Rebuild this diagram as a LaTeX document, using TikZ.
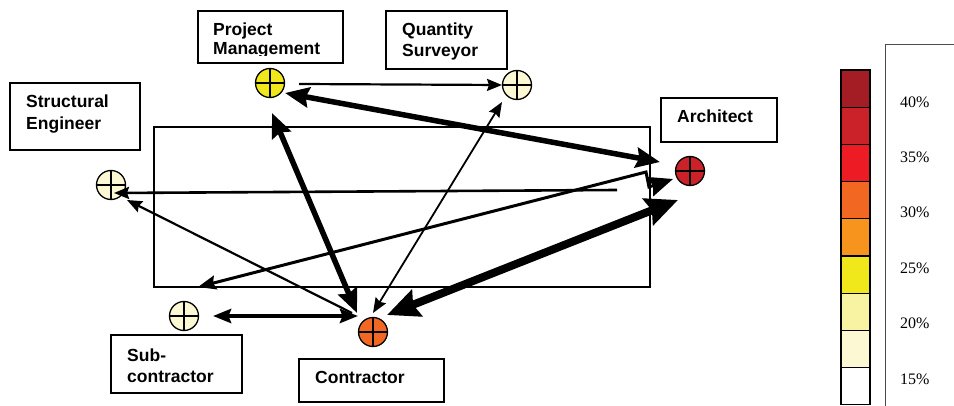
\documentclass[tikz,border=0pt]{standalone}
\usepackage{fontspec}
\setmainfont{Liberation Serif}
\newfontfamily\labfont{Liberation Sans}
\usetikzlibrary{arrows.meta,calc,fit}
\definecolor{cA}{HTML}{A51D24}
\definecolor{cB}{HTML}{CB2128}
\definecolor{cC}{HTML}{ED1C24}
\definecolor{cD}{HTML}{F26722}
\definecolor{cE}{HTML}{F7941D}
\definecolor{cF}{HTML}{F0E81A}
\definecolor{cG}{HTML}{F8F3A2}
\definecolor{cH}{HTML}{FCF8D3}
\definecolor{cI}{HTML}{FFFFFF}
\tikzset{
  HeadS/.tip={Stealth[length=15pt,width=12pt,inset=2pt]},
  HeadT/.tip={Stealth[length=18pt,width=14pt,inset=2.5pt]},
  HeadM/.tip={Stealth[length=24pt,width=20pt,inset=3pt]},
  HeadL/.tip={Stealth[length=32pt,width=28pt,inset=4pt]},
  boxframe/.style={draw, line width=1.4pt, inner sep=0pt},
  lbl/.style={font=\labfont\bfseries\fontsize{17.5}{21}\selectfont, anchor=base west, inner sep=0pt},
  pct/.style={font=\fontsize{16}{19}\selectfont, anchor=west, inner sep=0pt},
  disc/.style={circle, draw, line width=1.3pt, minimum size=29pt, inner sep=0pt, fill=#1,
    path picture={\draw[line width=1.3pt] (path picture bounding box.north) -- (path picture bounding box.south)
      (path picture bounding box.west) -- (path picture bounding box.east);}},
  wa/.style={line width=1.8pt},
  wb/.style={line width=2.2pt},
  wc/.style={line width=2.6pt},
  wd/.style={line width=3pt},
  we/.style={line width=4pt},
  wf/.style={line width=5.5pt},
  wg/.style={line width=8pt},
}
\begin{document}
\begin{tikzpicture}[x=1pt,y=-1pt]
\useasboundingbox (0,0) rectangle (954,406);
% central frame
\draw[line width=1.3pt] (154,127) rectangle (650,287);
% discs
\node[disc=cF] (pm) at (270,83) {};
\node[disc=cH] (qs) at (517,85) {};
\node[disc=cH] (se) at (111,185) {};
\node[disc=cB] (ar) at (690,171) {};
\node[disc=cH] (sc) at (184,316) {};
\node[disc=cD] (co) at (373,332) {};
% connectors
\coordinate (sefree) at (617,190);
\coordinate (bendA) at (646,172);
\coordinate (bendB) at (649,187);
\draw[wb, -HeadS] ([shift={(29,1)}]pm.center) -- ([shift={(-15,0)}]qs.center);
\draw[wf, HeadM-HeadM] ([shift={(15,10)}]pm.center) -- ([shift={(-30,-9)}]ar.center);
\draw[wc, -HeadS] (sefree) -- ([shift={(3,8)}]se.center);
\draw[wd, HeadT-HeadM] ([shift={(14,-29)}]sc.center) -- (bendA) -- (bendB) -- ([shift={(-17,8)}]ar.center);
\draw[wb, -HeadS] ([shift={(-21,-19)}]co.center) -- ([shift={(16,15)}]se.center);
\draw[wf, HeadM-HeadM] ([shift={(2,30)}]pm.center) -- ([shift={(-16,-19)}]co.center);
\draw[wa, HeadS-HeadS] ([shift={(-15,17)}]qs.center) -- ([shift={(0,-19)}]co.center);
\draw[we, HeadT-HeadT] ([shift={(29,0)}]sc.center) -- ([shift={(-15,-16)}]co.center);
\draw[wg, HeadL-HeadL] ([shift={(14,-17)}]co.center) -- ([shift={(-12,29)}]ar.center);
% label boxes
\node[boxframe, fit={(198,11) (343,63)}] (pmbox) {};
\node[lbl] (pmt1) at (213,36) {Project};
\begin{scope}
\clip (198,11) rectangle (343,56);
\node[lbl] (pmt2) at (213,55) {Management};
\end{scope}
\node[boxframe, fit={(386,11) (507,69)}] (qsbox) {};
\node[lbl] (qst1) at (402,36) {Quantity};
\node[lbl] (qst2) at (402,57) {Surveyor};
\node[boxframe, fit={(10,83) (140,150)}] (sebox) {};
\node[lbl] (set1) at (26,108) {Structural};
\node[lbl] (set2) at (26,129.5) {Engineer};
\node[boxframe, fit={(661,98) (777,142)}] (arbox) {};
\node[lbl] (art1) at (677,123) {Architect};
\node[boxframe, fit={(111,335) (242,393)}] (scbox) {};
\node[lbl] (sct1) at (127,361) {Sub-};
\node[lbl] (sct2) at (127,382) {contractor};
\node[boxframe, fit={(299,359) (444,402)}] (cobox) {};
\node[lbl] (cot1) at (315,384) {Contractor};
% legend
\foreach \c [count=\i from 0] in {cA,cB,cC,cD,cE,cF,cG,cH,cI}
  \draw[line width=1.3pt, fill=\c] (841,70+37.2*\i) rectangle (870,107.2+37.2*\i);
\draw[line width=1pt, black!70] (954,45) -- (885,45) -- (885,406);
\node[pct] (p40) at (900,102) {40\%};
\node[pct] (p35) at (900,157) {35\%};
\node[pct] (p30) at (900,212) {30\%};
\node[pct] (p25) at (900,268) {25\%};
\node[pct] (p20) at (900,323) {20\%};
\node[pct] (p15) at (900,379) {15\%};
\end{tikzpicture}
\end{document}
